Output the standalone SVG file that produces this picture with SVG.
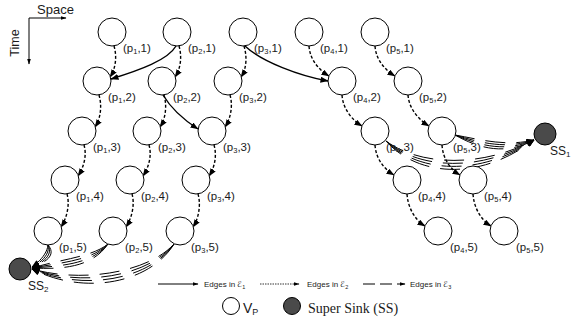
<svg xmlns="http://www.w3.org/2000/svg" width="574" height="325" viewBox="0 0 574 325">
<style>
.n{fill:#fff;stroke:#000;stroke-width:1}
.ss{fill:#4a4a4a;stroke:#000;stroke-width:1}
.lb{font-family:"Liberation Sans","DejaVu Sans",sans-serif;font-size:11.5px;fill:#1a1a1a}
.e1{fill:none;stroke:#000;stroke-width:1.4;marker-end:url(#ah)}
.e2{fill:none;stroke:#000;stroke-width:1.4;stroke-dasharray:3 2;marker-end:url(#ah)}
.e3{fill:none;stroke:#000;stroke-width:1;stroke-dasharray:20 11;marker-end:url(#ah)}
.ax{fill:none;stroke:#000;stroke-width:1;marker-end:url(#ahs)}
.lg{font-family:"Liberation Sans","DejaVu Sans",sans-serif;font-size:8px;fill:#1a1a1a}
</style>
<defs>
<marker id="ah" viewBox="0 0 8 6" refX="7.5" refY="3" markerWidth="8" markerHeight="6" orient="auto" markerUnits="userSpaceOnUse"><path d="M0,0 L8,3 L0,6 z" fill="#000"/></marker>
<marker id="ahs" viewBox="0 0 6 4" refX="5.5" refY="2" markerWidth="6" markerHeight="4" orient="auto" markerUnits="userSpaceOnUse"><path d="M0,0 L6,2 L0,4 z" fill="#000"/></marker>
</defs>

<g id="axes">
<path class="ax" d="M29,18 H66"/>
<path class="ax" d="M29,18 V64"/>
<text x="37" y="14" font-family="Liberation Sans, sans-serif" font-size="13" fill="#1a1a1a">Space</text>
<text transform="translate(19,43) rotate(-90)" text-anchor="middle" font-family="Liberation Sans, sans-serif" font-size="12.5" fill="#1a1a1a">Time</text>
</g>

<g id="connectors">
<path class="e1" d="M176,46 C168,60 140,70 111,79"/>
<path class="e1" d="M163,95 C172,110 184,120 198,129"/>
<path class="e1" d="M245,46 C262,62 300,76 328,81"/>
<path class="e2" d="M114,46 C117,56 116,68 110,77"/>
<path class="e2" d="M99,95 C102,105 101,118 95,127"/>
<path class="e2" d="M84,145 C87,155 84,167 78,176"/>
<path class="e2" d="M67,194 C70,204 67,218 61,227"/>
<path class="e2" d="M179,46 C182,56 181,68 175,77"/>
<path class="e2" d="M164,95 C167,105 166,118 160,127"/>
<path class="e2" d="M149,145 C152,155 149,167 143,176"/>
<path class="e2" d="M132,194 C135,204 132,218 126,227"/>
<path class="e2" d="M244,46 C247,56 247,68 241,77"/>
<path class="e2" d="M230,95 C233,105 231,118 225,127"/>
<path class="e2" d="M214,145 C217,155 215,167 209,176"/>
<path class="e2" d="M198,194 C201,204 199,218 193,227"/>
<path class="e2" d="M309,46 C310,60 319,70 329,76"/>
<path class="e2" d="M342,95 C343,109 352,120 362,126"/>
<path class="e2" d="M375,145 C376,159 384,169 394,175"/>
<path class="e2" d="M407,194 C408,208 415,220 425,226"/>
<path class="e2" d="M375,46 C376,60 385,70 395,76"/>
<path class="e2" d="M408,95 C409,109 419,120 429,126"/>
<path class="e2" d="M442,145 C443,159 450,169 460,175"/>
<path class="e2" d="M473,194 C474,208 481,220 491,226"/>
<path class="e3" d="M386,141 C418,165 480,169 534,140"/>
<path class="e3" d="M386,141 C418,169 480,173 534,140"/>
<path class="e3" d="M386,141 C418,173 480,177 534,140"/>
<path class="e3" d="M386,141 C418,177 480,181 534,140"/>
<path class="e3" d="M455,135 C478,139 505,147 534,140"/>
<path class="e3" d="M455,135 C478,142 505,150 534,140"/>
<path class="e3" d="M455,135 C478,145 505,153 534,140"/>
<path class="e3" d="M455,135 C478,148 505,156 534,140"/>
<path class="e3" d="M48,245 C47,254 39,262 32,267"/>
<path class="e3" d="M48,245 C50,254 42,262 32,267"/>
<path class="e3" d="M48,245 C53,254 45,262 32,267"/>
<path class="e3" d="M48,245 C56,254 48,262 32,267"/>
<path class="e3" d="M108,244 C92,257 62,259 32,268"/>
<path class="e3" d="M108,244 C92,260.5 62,262.5 32,268"/>
<path class="e3" d="M108,244 C92,264 62,266 32,268"/>
<path class="e3" d="M108,244 C92,267.5 62,269.5 32,268"/>
<path class="e3" d="M174,244 C150,271 85,284 32,269"/>
<path class="e3" d="M174,244 C150,275 85,288 32,269"/>
<path class="e3" d="M174,244 C150,279 85,292 32,269"/>
<path class="e3" d="M174,244 C150,283 85,296 32,269"/>
</g>

<g id="p1-1"><circle class="n" cx="112" cy="32" r="14"/><text class="lb" x="123" y="52">(p<tspan font-size="7.5" dy="2">1</tspan><tspan dy="-2">,1)</tspan></text></g>
<g id="p2-1"><circle class="n" cx="177" cy="32" r="14"/><text class="lb" x="188" y="52">(p<tspan font-size="7.5" dy="2">2</tspan><tspan dy="-2">,1)</tspan></text></g>
<g id="p3-1"><circle class="n" cx="243" cy="32" r="14"/><text class="lb" x="254" y="52">(p<tspan font-size="7.5" dy="2">3</tspan><tspan dy="-2">,1)</tspan></text></g>
<g id="p4-1"><circle class="n" cx="309" cy="32" r="14"/><text class="lb" x="320" y="52">(p<tspan font-size="7.5" dy="2">4</tspan><tspan dy="-2">,1)</tspan></text></g>
<g id="p5-1"><circle class="n" cx="375" cy="32" r="14"/><text class="lb" x="386" y="52">(p<tspan font-size="7.5" dy="2">5</tspan><tspan dy="-2">,1)</tspan></text></g>

<g id="p1-2"><circle class="n" cx="97" cy="81" r="14"/><text class="lb" x="108" y="101">(p<tspan font-size="7.5" dy="2">1</tspan><tspan dy="-2">,2)</tspan></text></g>
<g id="p2-2"><circle class="n" cx="162" cy="81" r="14"/><text class="lb" x="173" y="101">(p<tspan font-size="7.5" dy="2">2</tspan><tspan dy="-2">,2)</tspan></text></g>
<g id="p3-2"><circle class="n" cx="228" cy="81" r="14"/><text class="lb" x="239" y="101">(p<tspan font-size="7.5" dy="2">3</tspan><tspan dy="-2">,2)</tspan></text></g>
<g id="p4-2"><circle class="n" cx="342" cy="81" r="14"/><text class="lb" x="353" y="101">(p<tspan font-size="7.5" dy="2">4</tspan><tspan dy="-2">,2)</tspan></text></g>
<g id="p5-2"><circle class="n" cx="408" cy="81" r="14"/><text class="lb" x="419" y="101">(p<tspan font-size="7.5" dy="2">5</tspan><tspan dy="-2">,2)</tspan></text></g>

<g id="p1-3"><circle class="n" cx="82" cy="131" r="14"/><text class="lb" x="93" y="151">(p<tspan font-size="7.5" dy="2">1</tspan><tspan dy="-2">,3)</tspan></text></g>
<g id="p2-3"><circle class="n" cx="147" cy="131" r="14"/><text class="lb" x="158" y="151">(p<tspan font-size="7.5" dy="2">2</tspan><tspan dy="-2">,3)</tspan></text></g>
<g id="p3-3"><circle class="n" cx="212" cy="131" r="14"/><text class="lb" x="223" y="151">(p<tspan font-size="7.5" dy="2">3</tspan><tspan dy="-2">,3)</tspan></text></g>
<g id="p4-3"><circle class="n" cx="375" cy="131" r="14"/><text class="lb" x="386" y="151">(p<tspan font-size="7.5" dy="2">4</tspan><tspan dy="-2">,3)</tspan></text></g>
<g id="p5-3"><circle class="n" cx="442" cy="131" r="14"/><text class="lb" x="453" y="151">(p<tspan font-size="7.5" dy="2">5</tspan><tspan dy="-2">,3)</tspan></text></g>

<g id="p1-4"><circle class="n" cx="65" cy="180" r="14"/><text class="lb" x="76" y="200">(p<tspan font-size="7.5" dy="2">1</tspan><tspan dy="-2">,4)</tspan></text></g>
<g id="p2-4"><circle class="n" cx="130" cy="180" r="14"/><text class="lb" x="141" y="200">(p<tspan font-size="7.5" dy="2">2</tspan><tspan dy="-2">,4)</tspan></text></g>
<g id="p3-4"><circle class="n" cx="196" cy="180" r="14"/><text class="lb" x="207" y="200">(p<tspan font-size="7.5" dy="2">3</tspan><tspan dy="-2">,4)</tspan></text></g>
<g id="p4-4"><circle class="n" cx="407" cy="180" r="14"/><text class="lb" x="418" y="200">(p<tspan font-size="7.5" dy="2">4</tspan><tspan dy="-2">,4)</tspan></text></g>
<g id="p5-4"><circle class="n" cx="473" cy="180" r="14"/><text class="lb" x="484" y="200">(p<tspan font-size="7.5" dy="2">5</tspan><tspan dy="-2">,4)</tspan></text></g>

<g id="p1-5"><circle class="n" cx="48" cy="231" r="14"/><text class="lb" x="59" y="251">(p<tspan font-size="7.5" dy="2">1</tspan><tspan dy="-2">,5)</tspan></text></g>
<g id="p2-5"><circle class="n" cx="113" cy="231" r="14"/><text class="lb" x="125" y="251">(p<tspan font-size="7.5" dy="2">2</tspan><tspan dy="-2">,5)</tspan></text></g>
<g id="p3-5"><circle class="n" cx="180" cy="231" r="14"/><text class="lb" x="191" y="251">(p<tspan font-size="7.5" dy="2">3</tspan><tspan dy="-2">,5)</tspan></text></g>
<g id="p4-5"><circle class="n" cx="438" cy="231" r="14"/><text class="lb" x="450" y="251">(p<tspan font-size="7.5" dy="2">4</tspan><tspan dy="-2">,5)</tspan></text></g>
<g id="p5-5"><circle class="n" cx="504" cy="231" r="14"/><text class="lb" x="516" y="251">(p<tspan font-size="7.5" dy="2">5</tspan><tspan dy="-2">,5)</tspan></text></g>

<g id="SS1"><circle class="ss" cx="545" cy="134" r="11"/><text x="550" y="155" font-family="Liberation Sans, sans-serif" font-size="12" fill="#1a1a1a">SS<tspan font-size="8" dy="2">1</tspan></text></g>
<g id="SS2"><circle class="ss" cx="20" cy="269" r="11"/><text x="28" y="290" font-family="Liberation Sans, sans-serif" font-size="12" fill="#1a1a1a">SS<tspan font-size="8" dy="2">2</tspan></text></g>

<g id="legend">
<path d="M158,284 H198" fill="none" stroke="#000" stroke-width="1" marker-end="url(#ahs)"/>
<text class="lg" x="204" y="287">Edges in ℰ<tspan font-size="5.5" dy="1.5">1</tspan></text>
<path d="M260,284 H299" fill="none" stroke="#000" stroke-width="0.8" stroke-dasharray="1.5 1" marker-end="url(#ahs)"/>
<text class="lg" x="307" y="287">Edges in ℰ<tspan font-size="5.5" dy="1.5">2</tspan></text>
<path d="M363,284 H405" fill="none" stroke="#000" stroke-width="1" stroke-dasharray="12 5" marker-end="url(#ahs)"/>
<text class="lg" x="410" y="287">Edges in ℰ<tspan font-size="5.5" dy="1.5">3</tspan></text>
<circle class="n" cx="231" cy="306" r="8.5"/>
<text x="243" y="313" font-family="Liberation Sans, sans-serif" font-size="14" fill="#1a1a1a">V<tspan font-size="9" dy="2">P</tspan></text>
<circle class="ss" cx="292" cy="306" r="8.5"/>
<text x="308" y="313" font-family="Liberation Serif, serif" font-size="14" fill="#1a1a1a">Super Sink (SS)</text>
</g>
</svg>
